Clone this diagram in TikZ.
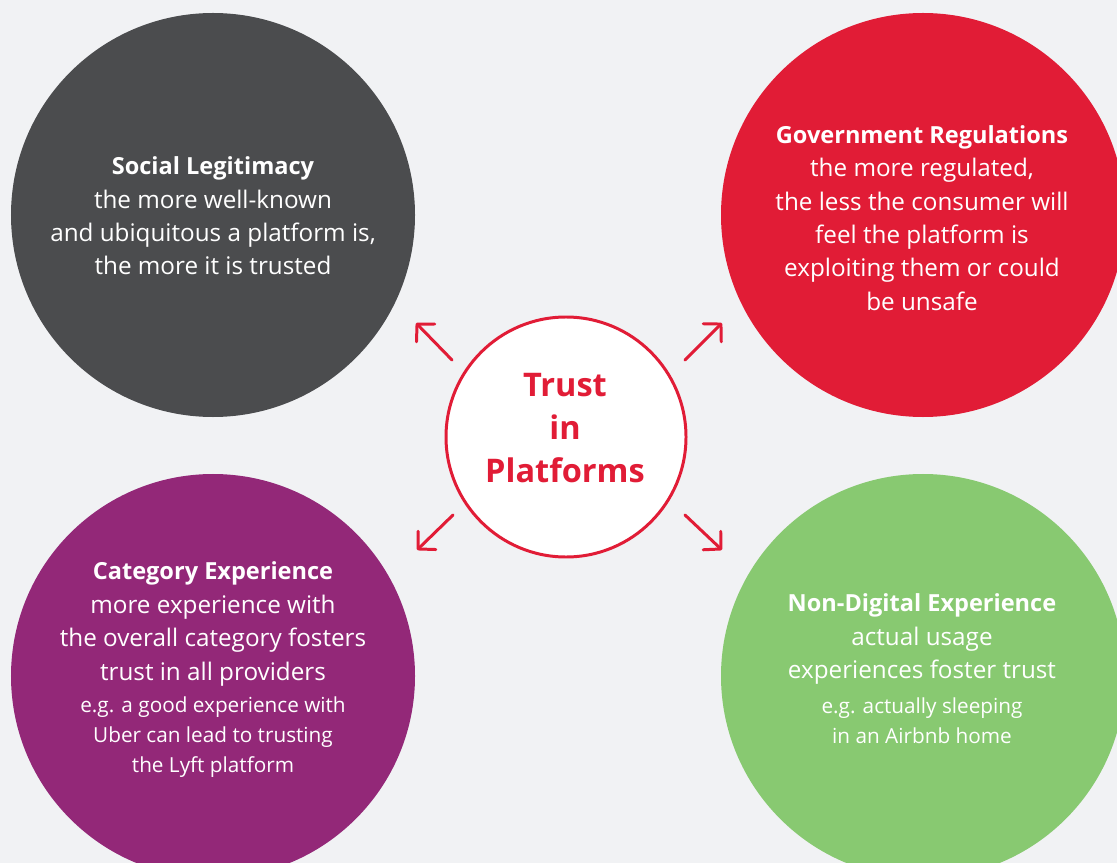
\documentclass[tikz,border=0pt]{standalone}
\usepackage{fontspec}
\setmainfont{Open Sans}
\usetikzlibrary{arrows.meta}

\definecolor{bggray}{HTML}{F1F2F4}
\definecolor{socialgray}{HTML}{4B4C4E}
\definecolor{regred}{HTML}{E11C36}
\definecolor{catpurple}{HTML}{932878}
\definecolor{digitgreen}{HTML}{88C971}

\newcommand{\headline}[1]{{\fontsize{13.4}{19}\selectfont\bfseries #1}}

\begin{document}
\begin{tikzpicture}[x=0.2mm,y=-0.2mm]
\tikzstyle{bigcircle}=[circle,inner sep=0pt,minimum size=80.8mm]
\tikzstyle{outarrow}=[draw=regred,line width=1.7pt,line cap=round,
  -{Straight Barb[length=7pt,width=14.5pt,round]}]
\tikzstyle{every node}=[align=center,text=white,
  font=\fontsize{13.8}{19}\selectfont]
\tikzstyle{example}=[font=\fontsize{11.8}{17}\selectfont]

\useasboundingbox (0,0) rectangle (1117,863);
\clip (0,0) rectangle (1117,863);
\fill[bggray] (0,0) rectangle (1117,863);

%the four outer circles
\node[bigcircle,fill=socialgray] (social) at (213,215) {};
\node[bigcircle,fill=regred] (regulation) at (923,215) {};
\node[bigcircle,fill=catpurple] (category) at (213,676) {};
\node[bigcircle,fill=digitgreen] (nondigital) at (923,676) {};

%texts of the circles
\node (socialtext) at (213,216) {\headline{Social Legitimacy}\\the more well-known\\
  and ubiquitous a platform is,\\the more it is trusted};
\node (regtext) at (922,218) {\headline{Government Regulations}\\the more regulated,\\
  the less the consumer will\\feel the platform is\\exploiting them or could\\be unsafe};
\node (cattext) at (213,624) {\headline{Category Experience}\\more experience with\\
  the overall category fosters\\trust in all providers};
\node[example] (catexample) at (213,737) {e.g. a good experience with\\
  Uber can lead to trusting\\the Lyft platform};
\node (digittext) at (922,639) {\headline{Non-Digital Experience}\\actual usage\\
  experiences foster trust};
\node[example] (digitexample) at (922,721) {e.g. actually sleeping\\in an Airbnb home};

%centre circle
\node[circle,draw=regred,line width=1.7pt,fill=white,minimum size=48mm]
  (trust) at (566,437) {};
\node[text=regred,font=\fontsize{18.5}{24.5}\selectfont\bfseries]
  (trusttext) at (565,428) {Trust\\in\\Platforms};

%arrows going out
\coordinate (sltail) at (452,360);
\coordinate (slhead) at (416,323);
\coordinate (grtail) at (685,360);
\coordinate (grhead) at (722,323);
\coordinate (cetail) at (453,515);
\coordinate (cehead) at (417,550);
\coordinate (ndtail) at (685,515);
\coordinate (ndhead) at (722,550);
\draw[outarrow] (sltail) -- (slhead);
\draw[outarrow] (grtail) -- (grhead);
\draw[outarrow] (cetail) -- (cehead);
\draw[outarrow] (ndtail) -- (ndhead);

\end{tikzpicture}
\end{document}
